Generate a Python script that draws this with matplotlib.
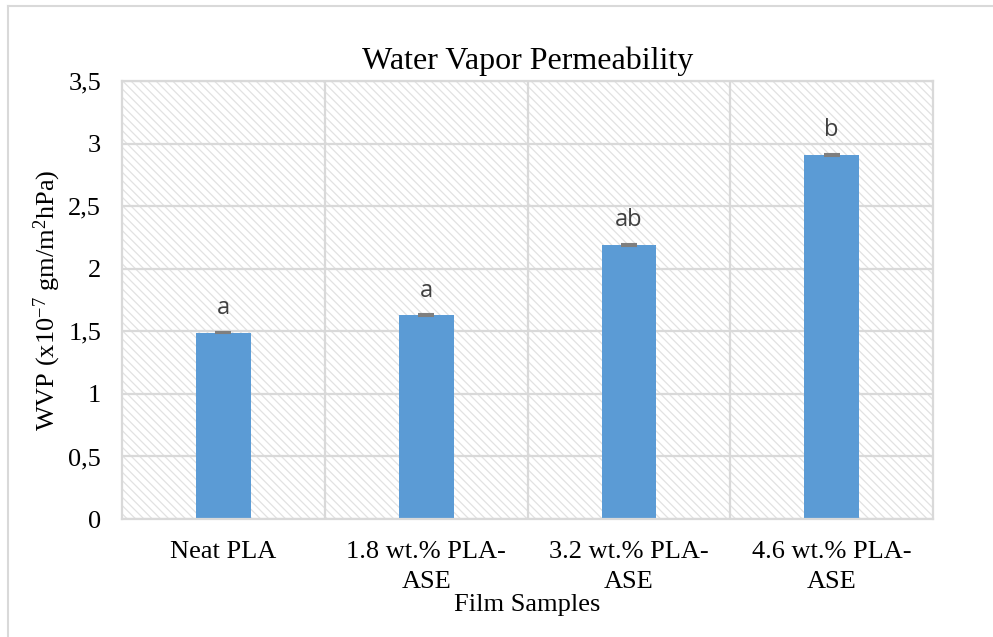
import matplotlib
matplotlib.use("Agg")
import matplotlib.pyplot as plt
from matplotlib.patches import Rectangle
from matplotlib.lines import Line2D
from matplotlib.ticker import FixedLocator, FuncFormatter

# Data
samples = ["Neat PLA", "1.8 wt.% PLA-\nASE", "3.2 wt.% PLA-\nASE", "4.6 wt.% PLA-\nASE"]
wvp = [1.49, 1.63, 2.19, 2.91]
wvp_err = [0.006, 0.006, 0.006, 0.006]
groups = ["a", "a", "ab", "b"]
y_ticks = [0, 0.5, 1, 1.5, 2, 2.5, 3, 3.5]

plt.rcParams["hatch.linewidth"] = 0.9
plt.rcParams["mathtext.fontset"] = "custom"
plt.rcParams["mathtext.rm"] = "Liberation Serif"
plt.rcParams["mathtext.it"] = "Liberation Serif:italic"
serif = ["Liberation Serif", "DejaVu Serif"]

fig = plt.figure(figsize=(9.93, 6.37), dpi=100)
ax = fig.add_axes([0.1229, 0.1852, 0.8167, 0.6876])

grid_c = "#d9d9d9"

# hatched plot area background
ax.patch.set_facecolor("white")
ax.add_patch(Rectangle((0, 0), 1, 1, transform=ax.transAxes, facecolor="white",
                       edgecolor="#e2e2e2", hatch="\\\\\\\\", lw=0, zorder=0))

x = list(range(len(samples)))
ax.bar(x, wvp, width=0.27, color="#5b9bd5", zorder=2)
ax.errorbar(x, wvp, yerr=wvp_err, fmt="none", ecolor="#7f7f7f",
            elinewidth=1.2, capsize=6, capthick=1.5, zorder=3)

for xi, v, g in zip(x, wvp, groups):
    ax.text(xi, v + 0.1, g, ha="center", va="bottom", fontsize=17,
            color="#404040", family=["Open Sans", "DejaVu Sans"])

ax.set_xlim(-0.5, len(samples) - 0.5)
ax.set_ylim(0, 3.5)
ax.yaxis.set_major_locator(FixedLocator(y_ticks))
ax.yaxis.set_major_formatter(FuncFormatter(lambda v, p: f"{v:g}".replace(".", ",")))
ax.set_xticks(x)
ax.set_xticklabels(samples, fontsize=19, family=serif, linespacing=1.45)
ax.xaxis.set_minor_locator(FixedLocator([0.5, 1.5, 2.5]))
for lbl in ax.get_yticklabels():
    lbl.set_fontsize(19)
    lbl.set_family(serif)

ax.tick_params(axis="both", which="both", length=0)
ax.tick_params(axis="x", pad=16)
ax.tick_params(axis="y", pad=15)

ax.set_axisbelow(True)
ax.yaxis.grid(True, color=grid_c, lw=1.6)
ax.xaxis.grid(True, which="minor", color=grid_c, lw=1.6)
for s in ax.spines.values():
    s.set_color(grid_c)
    s.set_linewidth(1.6)

ax.set_title("Water Vapor Permeability", fontsize=23, family=serif, pad=9)
ax.set_ylabel("WVP (x10$^{-7}$ gm/m$^{2}$hPa)", fontsize=19, family=serif, labelpad=4)
ax.set_xlabel("Film Samples", fontsize=19, family=serif, labelpad=1)

# chart-area outline (top and left edges)
fig.add_artist(Line2D([8 / 993, 1.0], [1 - 6 / 637, 1 - 6 / 637], transform=fig.transFigure,
                      color=grid_c, lw=1.5))
fig.add_artist(Line2D([8 / 993, 8 / 993], [0, 1 - 6 / 637], transform=fig.transFigure,
                      color=grid_c, lw=1.5))

fig.savefig("out.png", dpi=100)
